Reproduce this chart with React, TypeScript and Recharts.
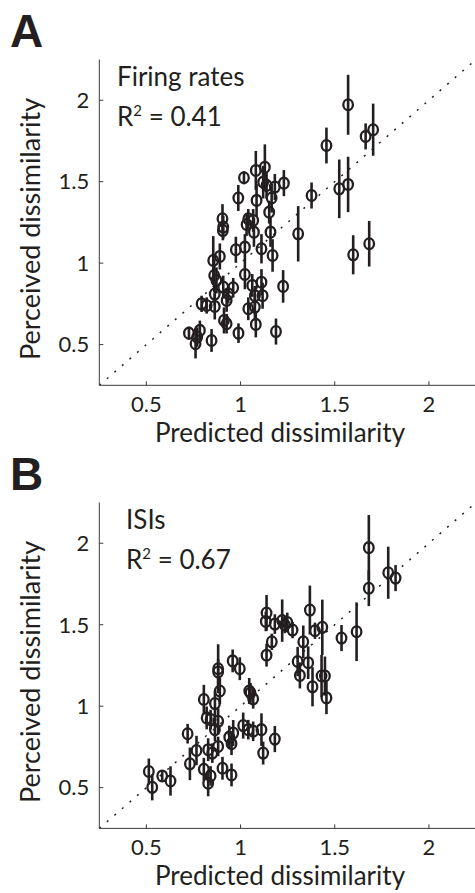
import React from 'react';
import { ScatterChart, Scatter, XAxis, YAxis, ErrorBar, ReferenceLine } from 'recharts';

// Panel A: firing rates
const firingX = [
  1.571, 1.664, 1.704, 1.456, 1.377, 1.524, 1.571, 1.598, 1.683, 1.306,
  1.23, 1.226, 1.188, 1.129, 1.081, 1.018, 0.988, 1.085, 1.12, 1.138,
  1.182, 1.165, 1.152, 1.159, 1.17, 1.111, 1.071, 1.032, 1.067, 1.041,
  1.023, 0.975, 1.023, 1.062, 1.111, 1.117, 1.076, 1.041, 1.076, 1.081,
  0.989, 0.904, 0.908, 0.906, 0.89, 0.855, 0.86, 0.872, 0.863, 0.908,
  0.961, 0.935, 0.926, 0.863, 0.793, 0.82, 0.784, 0.726, 0.761, 0.77,
  0.846, 0.912, 0.926,
];
const firingY = [
  1.972, 1.778, 1.819, 1.722, 1.415, 1.456, 1.483, 1.051, 1.119, 1.18,
  1.491, 0.857, 0.58, 1.589, 1.569, 1.524, 1.4, 1.385, 1.497, 1.477,
  1.467, 1.4, 1.313, 1.19, 1.047, 1.088, 1.19, 1.237, 1.262, 1.272,
  1.098, 1.082, 0.93, 0.863, 0.883, 0.8, 0.8, 0.72, 0.73, 0.624,
  0.57, 1.272, 1.221, 1.2, 1.041, 1.016, 0.924, 0.894, 0.81, 0.853,
  0.849, 0.812, 0.771, 0.734, 0.75, 0.74, 0.587, 0.57, 0.505, 0.546,
  0.525, 0.648, 0.628,
];
const firingErr = [
  0.184, 0.08, 0.16, 0.11, 0.08, 0.18, 0.17, 0.12, 0.14, 0.17,
  0.08, 0.1, 0.08, 0.14, 0.12, 0.04, 0.08, 0.1, 0.1, 0.08,
  0.08, 0.09, 0.07, 0.09, 0.1, 0.09, 0.09, 0.07, 0.07, 0.06,
  0.08, 0.08, 0.09, 0.07, 0.08, 0.08, 0.06, 0.07, 0.08, 0.08,
  0.06, 0.09, 0.07, 0.06, 0.08, 0.15, 0.1, 0.08, 0.07, 0.07,
  0.06, 0.06, 0.07, 0.08, 0.05, 0.05, 0.06, 0.04, 0.09, 0.06,
  0.07, 0.08, 0.06,
];

// Panel B: ISIs
const isiX = [
  1.681, 1.681, 1.784, 1.823, 1.616, 1.536, 1.368, 1.434, 1.395, 1.333,
  1.303, 1.359, 1.315, 1.382, 1.43, 1.448, 1.456, 1.138, 1.134, 1.182,
  1.221, 1.248, 1.235, 1.276, 1.166, 1.138, 0.958, 0.996, 0.881, 0.881,
  0.89, 0.805, 0.864, 1.046, 1.053, 1.067, 0.82, 0.841, 0.881, 0.864,
  0.961, 0.94, 0.952, 1.014, 1.041, 1.067, 1.111, 1.182, 1.12, 0.881,
  0.828, 0.85, 0.719, 0.766, 0.731, 0.805, 0.841, 0.828, 0.904, 0.952,
  0.513, 0.531, 0.584, 0.628,
];
const isiY = [
  1.973, 1.724, 1.819, 1.786, 1.457, 1.418, 1.59, 1.484, 1.463, 1.395,
  1.274, 1.267, 1.189, 1.119, 1.185, 1.185, 1.051, 1.572, 1.52, 1.504,
  1.525, 1.514, 1.498, 1.467, 1.395, 1.313, 1.278, 1.23, 1.23, 1.21,
  1.093, 1.041, 1.016, 1.093, 1.082, 1.045, 0.928, 0.918, 0.907, 0.856,
  0.835, 0.81, 0.77, 0.881, 0.856, 0.846, 0.856, 0.798, 0.712, 0.753,
  0.733, 0.712, 0.831, 0.728, 0.646, 0.613, 0.572, 0.527, 0.619, 0.578,
  0.599, 0.502, 0.572, 0.541,
];
const isiErr = [
  0.2, 0.11, 0.16, 0.08, 0.18, 0.08, 0.15, 0.17, 0.05, 0.1,
  0.09, 0.1, 0.08, 0.12, 0.13, 0.12, 0.1, 0.11, 0.06, 0.06,
  0.13, 0.06, 0.05, 0.05, 0.05, 0.07, 0.07, 0.07, 0.15, 0.08,
  0.08, 0.09, 0.08, 0.08, 0.06, 0.06, 0.07, 0.06, 0.08, 0.07,
  0.08, 0.07, 0.07, 0.08, 0.06, 0.06, 0.1, 0.08, 0.07, 0.06,
  0.07, 0.06, 0.06, 0.09, 0.1, 0.07, 0.06, 0.08, 0.07, 0.07,
  0.08, 0.08, 0.03, 0.09,
];

const axisTicks = [0.5, 1, 1.5, 2];
const INK = '#231f20';
const FONT = 'Lato, "Open Sans", sans-serif';

const Marker = (props: any) => (
  <ellipse cx={props.cx} cy={props.cy} rx={4.8} ry={5.4} fill="none" stroke={INK} strokeWidth={2.3} />
);

interface PanelProps {
  letter: string;
  title: string;
  r2: string;
  xs: number[];
  ys: number[];
  errs: number[];
  height: number;
  bottom: number;
  titleX: number;
}

const Panel: React.FC<PanelProps> = ({ letter, title, r2, xs, ys, errs, height, bottom, titleX }) => {
  const data = xs.map((x, i) => ({ x, y: ys[i], err: errs[i] }));
  const tickStyle = { fontSize: 22, fill: INK, fontFamily: FONT };

  return (
    <div style={{ position: 'relative', width: 477, height }}>
      <ScatterChart width={477} height={height} margin={{ top: 59.5, right: 1, left: 39.3, bottom }}>
        <XAxis
          type="number"
          dataKey="x"
          domain={[0.25, 2.25]}
          ticks={axisTicks}
          allowDataOverflow
          height={40}
          tickSize={-4}
          tickMargin={15}
          tick={tickStyle}
          stroke="#3a3a3a"
          tickFormatter={(v) => String(v)}
        />
        <YAxis
          type="number"
          dataKey="y"
          domain={[0.25, 2.25]}
          ticks={axisTicks}
          allowDataOverflow
          width={60}
          tickSize={-4}
          tickMargin={14}
          tick={tickStyle}
          stroke="#3a3a3a"
          tickFormatter={(v) => String(v)}
        />
        <ReferenceLine
          segment={[{ x: 0.25, y: 0.25 }, { x: 2.25, y: 2.25 }]}
          stroke={INK}
          strokeWidth={1.5}
          strokeDasharray="2 8"
          ifOverflow="visible"
        />
        <Scatter data={data} shape={Marker} isAnimationActive={false}>
          <ErrorBar dataKey="err" direction="y" width={0} stroke={INK} strokeWidth={2.6} />
        </Scatter>
      </ScatterChart>
      <svg
        width={477}
        height={height}
        style={{ position: 'absolute', left: 0, top: 0, pointerEvents: 'none', overflow: 'visible' }}
      >
        <text x={10} y={47} fontFamily='"Liberation Sans", Arial, sans-serif' fontWeight="bold" fontSize={46} fill={INK}>
          {letter}
        </text>
        <text x={titleX} y={86} fontFamily={FONT} fontSize={26} fill={INK}>
          {title}
        </text>
        <text x={titleX} y={126} fontFamily={FONT} fontSize={26} fill={INK}>
          R<tspan dy={-10} fontSize={15}>2</tspan>
          <tspan dy={10}> = {r2}</tspan>
        </text>
        <text x={280} y={442} textAnchor="middle" fontFamily={FONT} fontSize={26} fill={INK}>
          Predicted dissimilarity
        </text>
        <text
          transform="translate(40,229) rotate(-90)"
          textAnchor="middle"
          fontFamily={FONT}
          fontSize={27}
          fill={INK}
        >
          Perceived dissimilarity
        </text>
      </svg>
    </div>
  );
};

export default function App() {
  return (
    <div style={{ position: 'absolute', left: 0, top: 0, width: 475, height: 893, overflow: 'hidden', background: '#fff' }}>
      <Panel
        letter="A"
        title="Firing rates"
        r2="0.41"
        xs={firingX}
        ys={firingY}
        errs={firingErr}
        height={443}
        bottom={17.7}
        titleX={117}
      />
      <Panel
        letter="B"
        title="ISIs"
        r2="0.67"
        xs={isiX}
        ys={isiY}
        errs={isiErr}
        height={450}
        bottom={24.6}
        titleX={126}
      />
    </div>
  );
}
